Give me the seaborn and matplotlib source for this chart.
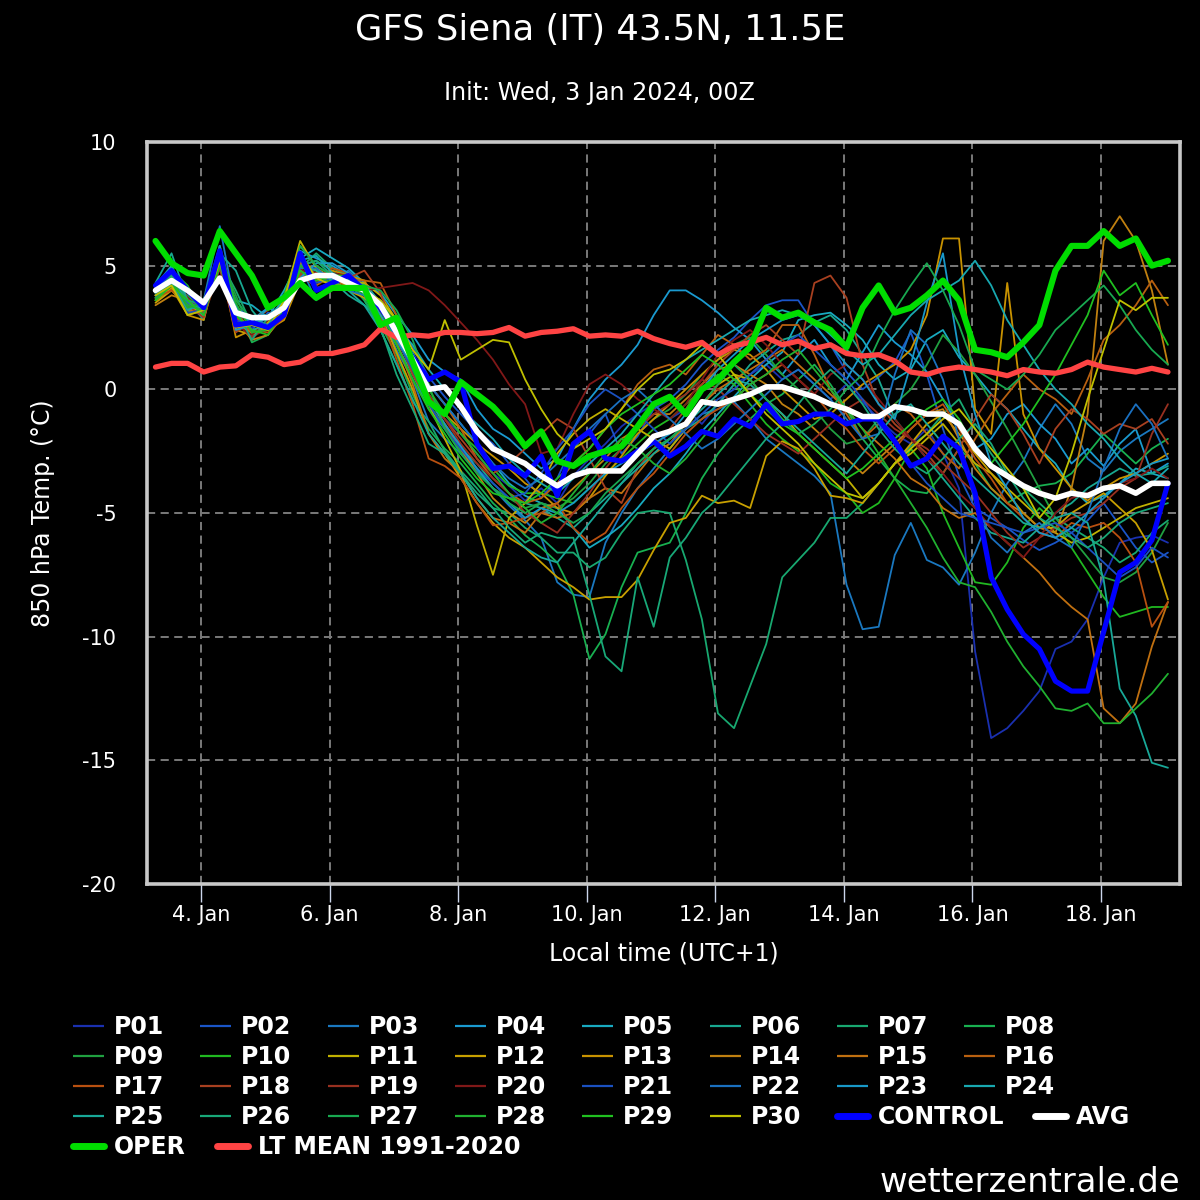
import numpy as np
import pandas as pd
import matplotlib
matplotlib.use("Agg")
import matplotlib.pyplot as plt
from matplotlib.lines import Line2D
import matplotlib.dates as mdates
import seaborn as sns

# 6-hourly steps in local time (UTC+1), +6h .. +384h
times = pd.date_range("2024-01-03 07:00", periods=64, freq="6h")

# ensemble members, 850 hPa temperature in degC
p01 = [4.0, 4.5, 3.2, 3.0, 5.8, 2.7, 2.5, 2.9, 3.4, 5.2, 4.0, 4.4, 4.5, 4.1, 3.3, 2.4,
       1.0, -0.5, -1.2, -1.8, -2.6, -3.4, -3.9, -4.5, -4.0, -4.6, -3.5, -2.8, -2.2, -1.5, -1.0, -0.6,
       -1.2, -0.8, -1.4, -0.6, 0.2, 0.6, 1.0, 0.4, 0.8, 0.2, -0.4, 0.2, -0.5, -1.2, -1.8, -2.2,
       -1.6, -2.6, -4.0, -10.6, -14.1, -13.7, -13.0, -12.2, -10.5, -10.2, -9.3, -7.6, -6.2, -6.0, -5.9, -6.2]
p02 = [4.2, 4.9, 3.4, 3.2, 5.4, 2.5, 2.4, 3.1, 3.0, 4.8, 4.5, 4.7, 4.2, 3.9, 3.6, 2.8,
       1.7, 0.5, -0.3, -1.0, -1.7, -2.2, -3.0, -3.6, -4.4, -3.6, -2.2, -1.8, -1.0, -2.6, -1.9, -0.8,
       -0.4, 0.2, 1.0, 1.6, 2.1, 2.8, 3.4, 3.6, 3.6, 2.6, 1.8, 0.7, 0.0, 0.5, 1.1, 2.3,
       0.6, -1.6, -3.5, -4.8, -5.2, -5.6, -6.1, -6.5, -6.2, -5.8, -5.3, -4.6, -5.5, -6.4, -7.0, -6.6]
p03 = [3.8, 4.3, 3.0, 3.6, 6.6, 3.2, 2.1, 2.7, 3.5, 5.0, 3.6, 4.4, 4.8, 4.2, 3.0, 1.6,
       0.4, -1.3, -2.0, -2.6, -3.3, -4.0, -4.7, -5.3, -6.0, -7.8, -8.3, -8.4, -6.2, -5.0, -4.0, -3.2,
       -2.4, -1.6, -1.0, -0.8, -0.5, -1.2, -2.0, -2.5, -3.0, -3.5, -4.2, -7.9, -9.7, -9.6, -6.7, -5.4,
       -6.9, -7.2, -7.9, -6.6, -5.0, -3.8, -2.9, -1.6, -0.6, -1.4, -2.8, -3.3, -2.5, -2.0, -1.6, -1.2]
p04 = [4.1, 4.7, 3.3, 3.0, 5.6, 3.0, 2.8, 3.3, 3.8, 5.6, 5.3, 5.0, 4.6, 4.2, 3.9, 3.0,
       2.2, 1.2, 0.7, 0.4, -0.8, -1.6, -2.0, -2.6, -3.2, -2.8, -1.6, -0.4, 0.4, 1.0, 1.8, 3.0,
       4.0, 4.0, 3.6, 3.1, 2.5, 2.0, 1.2, 0.6, 1.4, 2.0, 1.0, 0.4, 1.5, 2.6, 1.9, 1.4,
       0.7, -0.4, -1.5, -2.4, -2.0, -1.0, -0.6, -1.4, -2.0, -3.0, -2.4, -3.1, -2.2, -1.6, -3.4, -3.0]
p05 = [3.9, 4.6, 3.2, 3.3, 5.0, 3.6, 3.4, 2.9, 4.0, 5.3, 5.7, 5.3, 4.9, 4.3, 3.5, 2.0,
       1.5, 0.2, -0.6, -1.4, -2.2, -3.0, -3.8, -4.3, -4.6, -4.8, -5.6, -6.4, -6.0, -5.5, -4.8, -4.0,
       -3.4, -2.6, -1.7, -1.0, -0.3, 0.4, 1.0, 1.5, 2.8, 3.0, 3.1, 2.6, 2.0, 1.0, 0.4, 0.8,
       2.0, 2.4, 1.3, 0.6, -0.2, -0.8, -1.6, -2.4, -3.0, -4.0, -4.6, -4.3, -3.8, -3.2, -3.4, -3.6]
p06 = [4.3, 5.5, 3.6, 2.8, 5.5, 4.8, 3.2, 2.4, 3.2, 4.6, 4.9, 4.4, 3.8, 3.4, 2.8, 1.8,
       0.6, -0.8, -1.6, -2.4, -3.0, -3.8, -4.4, -4.6, -4.8, -5.2, -5.6, -5.0, -4.4, -3.8, -3.0, -2.4,
       -2.0, -1.6, -1.2, -0.6, 0.2, 1.0, 1.5, 2.0, 2.2, 2.7, 3.0, 2.4, 1.4, 0.4, -1.2, -2.0,
       -2.8, -3.6, -4.4, -5.2, -5.8, -6.0, -6.2, -5.6, -5.0, -4.6, -4.0, -3.6, -3.2, -3.5, -3.4, -3.1]
p07 = [3.7, 4.2, 3.5, 3.4, 5.2, 4.0, 2.6, 2.6, 3.0, 4.9, 5.5, 4.9, 4.6, 3.6, 2.4, 1.0,
       -0.5, -1.3, -2.5, -3.3, -4.0, -4.8, -5.0, -5.6, -6.0, -6.6, -6.6, -7.2, -6.8, -5.8, -5.0, -4.9,
       -5.0, -6.9, -9.3, -13.1, -13.7, -12.0, -10.3, -7.6, -6.9, -6.2, -5.2, -5.2, -4.6, -3.8, -3.0, -2.3,
       -1.8, -1.0, -0.4, -1.6, -2.6, -3.5, -4.0, -4.6, -5.2, -5.6, -6.0, -6.4, -7.0, -6.6, -5.8, -5.3]
p08 = [4.0, 4.4, 3.4, 3.6, 5.8, 3.4, 1.9, 2.2, 3.2, 5.0, 5.2, 4.8, 4.3, 3.6, 2.6, 1.4,
       -0.2, -1.6, -2.4, -3.0, -3.8, -4.6, -5.2, -5.9, -6.4, -7.0, -8.3, -10.9, -9.9, -8.0, -6.6, -6.4,
       -6.2, -5.0, -3.6, -2.6, -1.8, -1.2, -0.6, -0.2, 0.4, 1.0, 0.2, -0.8, -2.0, -2.8, -3.6, -4.1,
       -4.2, -3.4, -2.4, -3.0, -4.0, -4.6, -4.2, -3.9, -3.8, -3.4, -2.6, -1.8, -2.4, -3.0, -2.4, -2.0]
p09 = [3.6, 4.0, 3.8, 3.2, 5.4, 3.8, 2.2, 2.8, 3.6, 4.7, 4.4, 4.6, 4.6, 4.0, 3.2, 2.0,
       0.8, -0.6, -1.5, -2.5, -3.2, -4.0, -4.4, -4.8, -4.6, -4.8, -4.4, -3.8, -3.0, -2.4, -1.8, -1.2,
       -0.8, -0.2, 0.6, 1.2, 1.8, 2.1, 1.4, 0.6, 0.0, -0.8, -1.6, -2.2, -2.0, -1.2, -0.6, 0.0,
       1.0, 2.2, 1.5, 0.6, -0.5, -1.6, -2.8, -4.0, -5.2, -6.0, -6.8, -7.6, -7.8, -7.4, -6.6, -5.4]
p10 = [4.1, 4.8, 4.2, 3.0, 5.2, 3.3, 2.6, 2.6, 3.8, 5.8, 5.0, 4.6, 4.4, 4.2, 3.4, 2.2,
       1.0, -0.2, -1.0, -1.8, -2.4, -3.2, -3.9, -4.2, -4.2, -4.4, -4.6, -4.0, -3.4, -2.8, -2.2, -1.6,
       -1.2, -0.6, 0.0, 0.6, 0.2, -0.6, -1.4, -2.0, -2.5, -3.0, -3.8, -4.2, -5.0, -4.6, -3.6, -2.4,
       -3.2, -5.0, -6.4, -7.8, -7.9, -7.0, -5.6, -4.8, -5.4, -6.4, -7.4, -8.4, -9.2, -9.0, -8.8, -8.8]
p11 = [3.9, 4.4, 3.1, 3.4, 5.6, 2.6, 2.3, 2.7, 3.6, 6.0, 4.9, 4.5, 4.3, 4.3, 3.8, 2.8,
       1.3, -0.6, -2.0, -3.3, -5.5, -7.5, -5.2, -4.6, -3.8, -2.6, -1.8, -1.2, -0.8, -1.2, -1.6, -2.0,
       -2.4, -1.6, -0.6, 0.2, 0.6, 0.4, -0.4, -1.0, -1.8, -2.4, -3.0, -3.6, -4.4, -3.8, -3.0, -2.6,
       -2.0, -1.4, -2.2, -3.0, -3.4, -4.0, -4.6, -5.2, -5.8, -6.2, -6.0, -5.6, -5.2, -4.8, -4.6, -4.4]
p12 = [3.5, 4.0, 3.3, 3.2, 5.0, 2.4, 2.2, 2.5, 3.2, 5.2, 4.8, 4.2, 4.0, 3.7, 3.0, 1.5,
       0.0, -1.8, -2.6, -3.6, -4.6, -5.4, -6.0, -6.4, -7.0, -7.6, -8.0, -8.5, -8.4, -8.4, -7.7, -6.5,
       -5.4, -5.2, -4.3, -4.6, -4.5, -4.8, -2.7, -2.1, -2.4, -3.2, -4.3, -4.4, -4.6, -3.8, -3.0, -2.2,
       -1.4, -1.0, -1.8, -2.6, -3.4, -4.2, -5.0, -5.6, -5.6, -5.0, -4.6, -4.2, -4.8, -5.4, -6.5, -8.5]
p13 = [3.6, 4.1, 3.0, 2.8, 5.3, 2.1, 2.4, 2.4, 2.8, 4.4, 4.6, 4.8, 4.6, 4.4, 3.2, 2.0,
       0.8, -0.3, -1.0, -1.6, -2.2, -2.7, -3.2, -3.8, -4.2, -4.8, -5.0, -4.4, -3.5, -2.7, -1.8, -1.2,
       -0.6, 0.0, 0.6, 1.2, 1.6, 1.4, 0.8, 0.0, -0.6, -1.2, -1.0, -0.4, 0.2, 0.6, 1.0, 1.6,
       3.0, 6.1, 6.1, -0.8, -1.8, 4.3, -1.0, -2.4, -3.2, -4.0, -4.5, -4.0, -3.6, -3.4, -3.0, -2.6]
p14 = [3.4, 3.8, 3.6, 3.0, 5.1, 2.8, 2.0, 2.2, 3.0, 4.8, 4.4, 4.3, 4.4, 4.0, 3.6, 2.4,
       1.0, -0.4, -1.4, -2.4, -3.4, -4.4, -5.0, -5.4, -4.8, -4.6, -4.0, -3.4, -2.8, -2.0, -1.6, -1.0,
       -1.0, -0.4, 0.2, 0.8, 1.0, 0.6, 0.2, -0.6, -1.0, -1.6, -2.2, -2.8, -3.4, -2.8, -2.2, -1.6,
       -1.0, -0.8, -2.0, -3.2, -4.0, -4.6, -5.0, -5.6, -5.8, -4.0, -1.0, 6.0, 7.0, 6.0, 4.0, 1.0]
p15 = [3.8, 4.2, 3.2, 3.1, 5.4, 2.4, 2.6, 3.0, 3.4, 5.1, 4.6, 4.4, 4.2, 4.2, 3.3, 1.9,
       0.2, -1.8, -2.8, -3.4, -4.4, -5.2, -5.4, -5.8, -5.0, -5.2, -5.0, -4.4, -4.0, -4.2, -3.4, -2.6,
       -2.2, -1.4, -0.6, 0.0, 0.4, 0.8, 1.2, 1.6, 1.0, 0.4, -0.2, -0.8, -1.6, -2.2, -2.8, -3.6,
       -4.0, -4.8, -5.2, -5.0, -5.6, -6.2, -6.8, -7.4, -8.2, -8.8, -9.3, -12.9, -13.5, -12.7, -10.4, -8.6]
p16 = [3.9, 4.5, 3.0, 3.2, 5.7, 2.9, 2.3, 2.6, 3.3, 5.4, 4.2, 4.6, 4.4, 4.4, 4.3, 3.0,
       1.2, 0.2, -0.6, -1.6, -2.8, -3.6, -4.2, -4.6, -4.4, -3.8, -3.0, -2.4, -1.6, -0.8, 0.2, 0.8,
       1.0, 0.6, 1.4, 2.2, 1.8, 1.2, 1.6, 2.6, 2.6, 1.4, 0.0, -1.0, -2.0, -1.4, -0.6, -1.0,
       -1.8, -2.6, -3.2, -2.0, -1.0, -0.2, 0.6, 0.0, -0.4, -1.0, 0.4, 2.0, 2.6, 3.4, 4.4, 3.4]
p17 = [3.7, 4.0, 3.5, 3.3, 5.0, 3.1, 2.4, 2.3, 2.9, 4.6, 4.4, 4.9, 4.7, 4.1, 3.0, 1.2,
       -0.6, -2.8, -3.1, -3.6, -4.6, -5.5, -5.4, -5.2, -5.0, -4.6, -5.6, -6.2, -5.8, -4.8, -4.0, -3.4,
       -2.6, -1.8, -1.2, -0.8, -0.4, 0.2, 0.6, 1.0, 0.4, -0.2, -1.0, -1.6, -2.4, -3.0, -2.4, -1.6,
       -1.0, -0.6, -1.6, -2.8, -3.6, -4.6, -5.2, -5.8, -6.0, -5.4, -5.6, -5.4, -6.0, -7.0, -9.6, -8.6]
p18 = [3.8, 4.3, 3.4, 2.9, 4.9, 2.3, 2.8, 3.2, 3.6, 4.7, 4.1, 4.3, 4.5, 4.8, 3.9, 2.2,
       0.6, -0.5, -1.2, -2.0, -2.8, -3.4, -3.0, -2.4, -1.8, -1.2, -1.6, -2.8, -4.0, -4.6, -3.2, -2.4,
       -1.6, -0.8, 0.2, 1.0, 1.6, 2.2, 2.6, 2.0, 1.4, 4.3, 4.6, 3.7, 1.0, -0.6, -1.4, -2.0,
       -2.6, -3.4, -2.4, -1.2, -0.2, -0.8, -1.8, -3.0, -1.6, -0.8, -1.2, -1.8, -1.4, -1.6, -1.2, -2.2]
p19 = [3.9, 4.6, 3.7, 3.1, 5.1, 2.7, 2.1, 2.5, 3.1, 5.0, 4.7, 4.7, 4.4, 4.0, 3.4, 2.2,
       1.0, -0.2, -1.2, -2.2, -3.0, -3.6, -4.2, -5.0, -5.4, -5.8, -5.0, -4.2, -3.2, -2.4, -1.6, -1.0,
       -0.6, -0.2, 0.4, 0.0, -0.6, -1.2, -1.8, -2.2, -2.6, -2.0, -1.4, -0.8, -0.4, -1.0, -1.6, -2.0,
       -2.4, -3.0, -3.6, -4.2, -5.0, -5.8, -6.4, -6.0, -5.6, -5.2, -5.0, -4.6, -4.0, -3.6, -1.8, -0.6]
p20 = [4.0, 4.4, 3.3, 3.4, 5.3, 2.6, 2.2, 2.8, 3.3, 4.9, 4.4, 4.7, 4.6, 4.0, 4.1, 4.2,
       4.3, 4.0, 3.4, 2.7, 2.0, 1.2, 0.2, -0.6, -2.6, -2.4, -1.0, 0.2, 0.6, 0.2, -0.4, -0.8,
       -1.2, -0.6, 0.4, 1.4, 2.0, 2.4, 1.8, 1.0, 0.4, -0.2, 0.6, 1.0, 0.4, -0.4, -1.2, -2.0,
       -2.8, -3.4, -4.2, -4.8, -5.6, -6.2, -6.8, -6.0, -5.0, -4.4, -4.2, -4.0, -3.8, -3.6, -3.2, -3.6]
p21 = [4.1, 4.6, 3.1, 3.2, 5.5, 2.8, 2.6, 3.0, 3.4, 5.3, 4.3, 4.5, 4.4, 4.0, 3.2, 2.0,
       0.8, -0.6, -1.6, -2.4, -3.2, -3.8, -4.4, -4.2, -3.4, -2.4, -1.6, -0.6, 0.0, -0.4, -1.0, -1.6,
       -2.2, -1.6, -1.0, -0.4, 0.0, 0.6, 1.2, 1.8, 2.2, 1.6, 1.0, 0.4, -0.4, -1.4, -2.2, -3.0,
       -3.8, -4.4, -5.0, -5.2, -5.4, -5.6, -5.8, -5.6, -5.4, -5.8, -6.4, -7.0, -7.6, -7.2, -6.4, -6.8]
p22 = [3.9, 4.5, 3.5, 3.3, 5.6, 3.3, 2.9, 2.6, 3.1, 4.9, 4.9, 4.4, 4.0, 3.8, 3.4, 2.6,
       1.4, 0.2, -0.6, -1.4, -2.2, -3.0, -3.6, -4.0, -3.6, -3.0, -2.4, -1.6, -1.0, -0.4, 0.0, -0.6,
       -1.2, -1.8, -2.4, -2.0, -1.4, -0.8, -0.2, 0.4, 0.8, 0.2, -0.4, -1.2, -2.0, -1.8, 0.6, 2.4,
       1.8, 0.4, -2.0, -4.6, -6.0, -6.6, -5.8, -5.4, -6.0, -6.4, -5.0, -3.2, -1.6, -0.6, -1.4, -2.8]
p23 = [4.0, 4.8, 3.3, 3.3, 5.8, 2.4, 2.6, 3.3, 3.0, 4.5, 5.1, 5.1, 4.7, 4.0, 3.0, 2.0,
       1.0, -0.4, -1.4, -2.3, -3.2, -4.0, -4.6, -5.2, -4.8, -5.0, -4.6, -4.0, -3.4, -3.0, -2.6, -2.2,
       -1.8, -1.0, 0.0, 0.8, 1.4, 2.0, 2.4, 2.8, 3.0, 2.6, 1.8, 1.0, 0.4, -0.6, -1.2, 1.0,
       3.5, 5.5, 1.5, -1.0, -3.0, -4.0, -5.2, -5.8, -6.0, -5.6, -5.0, -4.4, -3.8, -3.4, -3.0, -2.8]
p24 = [4.2, 5.0, 3.6, 3.0, 5.3, 3.4, 2.6, 2.9, 3.6, 5.2, 5.4, 4.7, 4.4, 4.2, 3.5, 2.5,
       1.8, 0.8, 0.0, -0.8, -1.4, -2.0, -2.8, -3.4, -3.8, -4.2, -3.6, -3.0, -2.4, -1.8, -1.0, -0.2,
       0.6, 1.2, 1.6, 2.0, 2.4, 2.8, 3.0, 3.2, 3.0, 2.8, 2.2, 1.6, 1.0, 1.4, 2.2, 3.0,
       3.6, 4.0, 4.4, 5.2, 4.2, 2.8, 1.8, 0.8, 0.0, -0.6, -1.4, -2.0, -2.8, -3.4, -3.8, -3.2]
p25 = [3.8, 4.3, 3.2, 3.5, 5.5, 3.0, 2.4, 2.6, 3.4, 5.0, 4.8, 4.4, 4.0, 3.4, 2.4, 1.0,
       -0.4, -1.8, -2.6, -3.4, -4.4, -5.2, -5.8, -6.4, -6.8, -7.0, -6.2, -5.4, -4.6, -3.8, -3.2, -2.6,
       -2.0, -1.4, -0.8, -0.2, 0.4, 0.2, -0.4, -1.0, -1.6, -2.2, -2.8, -3.4, -2.6, -1.8, -1.0, -0.6,
       -1.4, -2.2, -3.0, -3.6, -4.2, -4.8, -5.4, -5.6, -5.2, -5.0, -5.4, -7.7, -12.1, -13.2, -15.1, -15.3]
p26 = [3.9, 4.6, 3.6, 3.4, 5.6, 3.2, 2.0, 2.9, 3.3, 5.0, 5.2, 4.6, 4.5, 3.8, 2.5, 0.6,
       -0.8, -2.2, -2.6, -3.4, -4.2, -4.8, -5.6, -6.2, -5.8, -6.0, -6.0, -8.3, -10.8, -11.4, -7.6, -9.6,
       -6.8, -6.0, -5.0, -4.4, -3.6, -2.8, -2.0, -1.4, -0.6, 0.2, 0.8, 0.2, -0.6, -1.6, -2.4, -3.0,
       -3.4, -2.8, -2.0, -1.4, -2.2, -3.4, -4.4, -5.2, -5.6, -6.0, -6.4, -6.0, -5.4, -5.0, -4.8, -4.6]
p27 = [3.7, 4.4, 3.4, 3.2, 5.2, 3.6, 2.8, 3.0, 3.2, 5.8, 5.0, 4.6, 4.3, 4.2, 4.0, 3.2,
       2.0, 0.2, -1.6, -2.6, -3.4, -4.0, -4.6, -5.0, -4.6, -5.0, -5.4, -5.0, -4.2, -3.6, -3.0, -2.4,
       -2.0, -1.4, -0.6, 0.2, 1.0, 0.4, -0.4, -1.2, -1.8, -1.4, -0.8, 0.0, 0.6, 2.0, 3.2, 4.2,
       5.1, 4.0, 2.6, 0.8, 0.4, 0.0, 0.6, 1.4, 2.4, 3.0, 3.6, 4.2, 3.4, 2.4, 1.6, 1.0]
p28 = [4.0, 4.5, 3.3, 3.5, 5.5, 3.5, 2.3, 2.4, 3.0, 5.0, 4.6, 4.3, 4.1, 3.9, 3.6, 2.6,
       1.4, 0.0, -1.0, -1.8, -2.6, -3.4, -4.2, -4.8, -5.4, -5.0, -4.2, -3.4, -2.6, -2.0, -2.4, -3.0,
       -3.4, -2.8, -2.0, -1.2, -0.4, 0.2, 0.6, 1.2, 1.6, 0.8, 0.0, -0.8, -1.6, -2.6, -3.6, -4.6,
       -5.6, -6.8, -7.8, -8.0, -9.0, -10.2, -11.2, -12.0, -12.9, -13.0, -12.7, -13.5, -13.5, -12.9, -12.3, -11.5]
p29 = [3.6, 4.2, 3.6, 3.0, 5.0, 3.0, 2.4, 2.2, 3.2, 4.8, 4.4, 4.6, 4.6, 4.0, 3.2, 1.8,
       0.4, -0.8, -1.8, -2.8, -3.6, -4.2, -4.4, -4.6, -4.2, -3.6, -3.0, -2.4, -1.6, -1.0, -0.6, -0.2,
       0.2, 0.8, 1.4, 1.0, 0.4, -0.2, -0.8, -1.4, -1.8, -2.4, -3.0, -3.6, -3.2, -2.6, -2.0, -1.4,
       -0.8, -0.4, -1.2, -2.4, -3.0, -2.2, -1.4, -0.4, 0.6, 1.8, 3.0, 4.8, 3.8, 4.3, 3.0, 1.8]
p30 = [3.8, 4.2, 3.0, 3.2, 5.2, 2.5, 2.6, 2.4, 3.6, 5.5, 4.5, 4.2, 4.2, 4.0, 3.6, 2.8,
       1.6, 0.8, 2.8, 1.2, 1.6, 2.0, 1.9, 0.4, -0.8, -1.8, -2.4, -2.0, -1.6, -0.8, 0.0, 0.6,
       0.8, 1.2, 1.8, 1.4, 0.6, -0.2, -1.0, -1.6, -2.2, -3.0, -3.6, -4.2, -4.4, -3.8, -3.0, -2.4,
       -1.8, -1.2, -0.8, -1.6, -2.4, -3.2, -4.0, -5.2, -4.4, -2.6, -0.4, 1.6, 3.6, 3.2, 3.7, 3.7]

control = [4.2, 4.8, 4.0, 3.3, 5.6, 2.6, 2.7, 2.5, 3.0, 5.5, 4.0, 4.3, 4.6, 4.0, 3.3, 2.3,
           1.3, 0.4, 0.7, 0.3, -2.2, -3.2, -3.1, -3.5, -2.7, -4.3, -2.2, -1.7, -2.8, -2.9, -2.5, -2.1,
           -2.7, -2.3, -1.7, -1.9, -1.2, -1.5, -0.6, -1.4, -1.3, -1.0, -1.0, -1.4, -1.2, -1.2, -2.1, -3.1,
           -2.8, -1.9, -2.4, -4.2, -7.6, -8.9, -9.9, -10.5, -11.8, -12.2, -12.2, -9.8, -7.4, -7.0, -6.1, -3.8]
avg = [4.0, 4.4, 4.0, 3.5, 4.5, 3.1, 2.9, 2.9, 3.3, 4.4, 4.6, 4.6, 4.3, 4.0, 3.4, 2.3,
       1.2, 0.0, 0.1, -0.7, -1.7, -2.4, -2.7, -3.0, -3.5, -3.9, -3.5, -3.3, -3.3, -3.3, -2.6, -1.9,
       -1.7, -1.4, -0.5, -0.6, -0.4, -0.2, 0.1, 0.1, -0.1, -0.3, -0.6, -0.8, -1.1, -1.1, -0.7, -0.8,
       -1.0, -1.0, -1.4, -2.4, -3.1, -3.5, -3.9, -4.2, -4.4, -4.2, -4.3, -4.0, -3.9, -4.2, -3.8, -3.8]
oper = [6.0, 5.1, 4.7, 4.6, 6.4, 5.5, 4.6, 3.3, 3.7, 4.3, 3.7, 4.1, 4.1, 4.1, 2.6, 2.9,
        1.1, -0.5, -1.0, 0.3, -0.2, -0.7, -1.4, -2.3, -1.7, -2.9, -3.1, -2.7, -2.5, -2.3, -1.5, -0.6,
        -0.3, -1.0, 0.0, 0.4, 1.1, 1.7, 3.3, 2.9, 3.1, 2.7, 2.4, 1.7, 3.3, 4.2, 3.1, 3.3,
        3.8, 4.4, 3.6, 1.6, 1.5, 1.3, 1.9, 2.6, 4.8, 5.8, 5.8, 6.4, 5.8, 6.1, 5.0, 5.2]
lt_mean = [0.9, 1.05, 1.05, 0.7, 0.9, 0.95, 1.4, 1.3, 1.0, 1.1, 1.45, 1.45, 1.6, 1.8, 2.45, 2.1,
           2.2, 2.15, 2.3, 2.3, 2.25, 2.3, 2.5, 2.15, 2.3, 2.35, 2.45, 2.15, 2.2, 2.15, 2.35, 2.05,
           1.85, 1.7, 1.9, 1.4, 1.75, 1.9, 2.1, 1.8, 1.95, 1.65, 1.8, 1.45, 1.35, 1.4, 1.15, 0.7,
           0.6, 0.8, 0.9, 0.8, 0.7, 0.55, 0.8, 0.7, 0.65, 0.8, 1.1, 0.9, 0.8, 0.7, 0.85, 0.7]

members = [p01, p02, p03, p04, p05, p06, p07, p08, p09, p10,
           p11, p12, p13, p14, p15, p16, p17, p18, p19, p20,
           p21, p22, p23, p24, p25, p26, p27, p28, p29, p30]
member_names = [f"P{i:02d}" for i in range(1, 31)]
member_colors = ["#1a30b0", "#1a55c8", "#1a78c0", "#1a9ad0", "#18aac0",
                 "#18a890", "#18a870", "#18b050", "#20a040", "#20b820",
                 "#c0b000", "#c8a000", "#c89200", "#c08010", "#c07010",
                 "#b86010", "#b85010", "#a84020", "#983020", "#801818",
                 "#1a50c0", "#1a70c0", "#1898c8", "#18a8b0", "#18a898",
                 "#18a878", "#18a850", "#20b030", "#20c020", "#c0c000"]

tick_days = pd.date_range("2024-01-04", "2024-01-18", freq="2D")
tick_labels = [f"{d.day}. Jan" for d in tick_days]
y_ticks = [-20, -15, -10, -5, 0, 5, 10]

# long table for seaborn
ens = pd.concat([pd.DataFrame({"time": times, "temp": v, "member": n})
                 for n, v in zip(member_names, members)], ignore_index=True)

sns.set_style("dark")
plt.rcParams["font.family"] = ["DejaVu Sans"]

W, H = 1200, 1200
fig = plt.figure(figsize=(12, 12), dpi=100, facecolor="black")
ax = fig.add_axes([147 / W, 1 - 884 / H, (1180 - 147) / W, (884 - 142) / H])
ax.set_facecolor("black")

sns.lineplot(data=ens, x="time", y="temp", hue="member",
             palette=dict(zip(member_names, member_colors)),
             linewidth=1.3, estimator=None, legend=False, ax=ax)

main_lines = [("LT MEAN 1991-2020", lt_mean, "#ff4444", 3.8),
              ("CONTROL", control, "#0000ff", 3.7),
              ("AVG", avg, "#ffffff", 4.0),
              ("OPER", oper, "#00dd00", 4.4)]
for lbl, vals, col, lw in main_lines:
    sns.lineplot(x=times, y=vals, color=col, linewidth=lw, estimator=None,
                 legend=False, ax=ax)

ax.set_xlim(pd.Timestamp("2024-01-03 03:50"), pd.Timestamp("2024-01-19 05:30"))
ax.set_ylim(-20, 10)
ax.set_xticks(mdates.date2num(tick_days.to_pydatetime()))
ax.set_xticklabels(tick_labels)
ax.set_yticks(y_ticks)
ax.set_yticklabels([str(v) for v in y_ticks])
ax.set_xlabel("")
ax.set_ylabel("")

ax.grid(True, color="#7a7a7a", linestyle=(0, (4.2, 2.8)), linewidth=1.4)
ax.set_axisbelow(True)
for s in ax.spines.values():
    s.set_visible(True)
    s.set_color("#c8c8c8")
    s.set_linewidth(2.6)

ax.tick_params(axis="x", bottom=True, length=13, width=1, color="#ccd6eb",
               pad=2, labelsize=15, labelcolor="white")
ax.tick_params(axis="y", left=False, length=0, pad=22, labelsize=15,
               labelcolor="white")

# titles and axis labels
fig.text(0.5, 1 - 40 / H, "GFS Siena (IT) 43.5N, 11.5E", ha="center",
         va="baseline", color="white", fontsize=25.5)
fig.text(0.5, 1 - 100 / H, "Init: Wed, 3 Jan 2024, 00Z", ha="center",
         va="baseline", color="white", fontsize=17.2)
fig.text(43 / W, 1 - 513 / H, "850 hPa Temp. (°C)", rotation=90, ha="center",
         va="center", color="white", fontsize=17)
fig.text(663.5 / W, 1 - 954 / H, "Local time (UTC+1)", ha="center",
         va="center", color="white", fontsize=17)
fig.text(1180 / W, 1 - 1192 / H, "wetterzentrale.de", ha="right",
         va="baseline", color="white", fontsize=24.4)

# legend laid out row by row, 8 columns
legend_items = [(n, c, 1.6) for n, c in zip(member_names, member_colors)]
legend_items += [(lbl, col, 5.0) for lbl, _, col, _ in
                 [main_lines[1], main_lines[2], main_lines[3], main_lines[0]]]
renderer = fig.canvas.get_renderer()
prev_end = 0
for i, (lbl, col, lw) in enumerate(legend_items):
    r, c = divmod(i, 8)
    y_px = 1025.7 + 30 * r
    x_px = 73 + 127.3 * c
    if c > 0 and x_px < prev_end + 31:
        x_px = prev_end + 31
    cap = "round" if lw > 3 else "butt"
    fig.add_artist(Line2D([x_px / W, (x_px + 31) / W], [1 - y_px / H] * 2,
                          color=col, lw=lw, solid_capstyle=cap,
                          transform=fig.transFigure))
    t = fig.text((x_px + 41) / W, 1 - (y_px + 8.5) / H, lbl, ha="left",
                 va="baseline", color="white", fontsize=17, fontweight="bold")
    prev_end = t.get_window_extent(renderer).x1

fig.savefig("out.png", dpi=100, facecolor="black")
